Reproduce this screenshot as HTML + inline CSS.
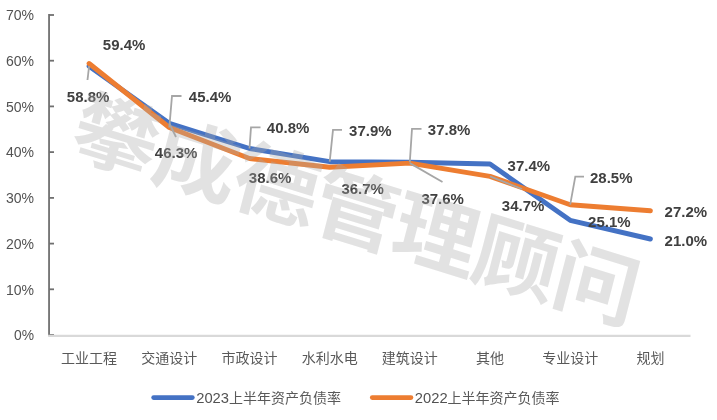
<!DOCTYPE html>
<html lang="zh-CN">
<head>
<meta charset="utf-8">
<title>资产负债率</title>
<style>
html,body{margin:0;padding:0;background:#fff;}
body{width:717px;height:420px;overflow:hidden;}
svg{display:block;font-family:"Liberation Sans","Noto Sans CJK SC",sans-serif;}
.ax{font-size:15.2px;fill:#525252;}
.cat{font-size:14px;fill:#595959;font-family:"Noto Sans CJK SC","Liberation Sans",sans-serif;text-anchor:middle;}
.leg{font-size:14px;fill:#595959;font-family:"Noto Sans CJK SC","Liberation Sans",sans-serif;}
.legn{font-size:15px;fill:#525252;}
.dl{font-size:15.2px;font-weight:bold;fill:#404040;}
.ld{fill:none;stroke:#a6a6a6;stroke-width:1.8;}
.wm{font-family:"Noto Sans CJK SC",sans-serif;font-weight:bold;font-size:76px;fill:#aaaaaa;fill-opacity:0.34;}
</style>
</head>
<body>
<svg width="717" height="420" viewBox="0 0 717 420">
<rect width="717" height="420" fill="#ffffff"/>
<line x1="49.05" y1="14.1" x2="49.05" y2="335.5" stroke="#707070" stroke-width="1.8"/>
<line x1="49.0" y1="335.0" x2="54.0" y2="335.0" stroke="#707070" stroke-width="1.8"/>
<text class="ax" x="14.1" y="340.2" textLength="20.0" lengthAdjust="spacingAndGlyphs">0%</text>
<line x1="49.0" y1="289.3" x2="54.0" y2="289.3" stroke="#707070" stroke-width="1.8"/>
<text class="ax" x="6.0" y="294.5" textLength="28.1" lengthAdjust="spacingAndGlyphs">10%</text>
<line x1="49.0" y1="243.6" x2="54.0" y2="243.6" stroke="#707070" stroke-width="1.8"/>
<text class="ax" x="6.0" y="248.8" textLength="28.1" lengthAdjust="spacingAndGlyphs">20%</text>
<line x1="49.0" y1="197.9" x2="54.0" y2="197.9" stroke="#707070" stroke-width="1.8"/>
<text class="ax" x="6.0" y="203.1" textLength="28.1" lengthAdjust="spacingAndGlyphs">30%</text>
<line x1="49.0" y1="152.1" x2="54.0" y2="152.1" stroke="#707070" stroke-width="1.8"/>
<text class="ax" x="6.0" y="157.3" textLength="28.1" lengthAdjust="spacingAndGlyphs">40%</text>
<line x1="49.0" y1="106.4" x2="54.0" y2="106.4" stroke="#707070" stroke-width="1.8"/>
<text class="ax" x="6.0" y="111.6" textLength="28.1" lengthAdjust="spacingAndGlyphs">50%</text>
<line x1="49.0" y1="60.7" x2="54.0" y2="60.7" stroke="#707070" stroke-width="1.8"/>
<text class="ax" x="6.0" y="65.9" textLength="28.1" lengthAdjust="spacingAndGlyphs">60%</text>
<line x1="49.0" y1="15.0" x2="54.0" y2="15.0" stroke="#707070" stroke-width="1.8"/>
<text class="ax" x="6.0" y="20.2" textLength="28.1" lengthAdjust="spacingAndGlyphs">70%</text>
<line x1="48.2" y1="335.85" x2="690.5" y2="335.85" stroke="#d9d9d9" stroke-width="2.1"/>
<text class="cat" x="89.1" y="363.2">工业工程</text>
<text class="cat" x="169.3" y="363.2">交通设计</text>
<text class="cat" x="249.5" y="363.2">市政设计</text>
<text class="cat" x="329.7" y="363.2">水利水电</text>
<text class="cat" x="409.8" y="363.2">建筑设计</text>
<text class="cat" x="490.0" y="363.2">其他</text>
<text class="cat" x="570.2" y="363.2">专业设计</text>
<text class="cat" x="650.4" y="363.2">规划</text>
<polyline points="89.1,66.2 169.3,123.3 249.5,148.5 329.7,161.7 409.8,162.2 490.0,164.0 570.2,220.3 650.4,239.0" fill="none" stroke="#4472c4" stroke-width="4.9" stroke-linejoin="round" stroke-linecap="round"/>
<polyline points="89.1,63.5 169.3,127.5 249.5,158.5 329.7,167.2 409.8,163.1 490.0,176.4 570.2,204.7 650.4,210.7" fill="none" stroke="#ed7d31" stroke-width="4.9" stroke-linejoin="round" stroke-linecap="round"/>
<polyline class="ld" points="89.1,66.2 87.5,80.0"/>
<polyline class="ld" points="169.3,123.3 176.0,137.0"/>
<polyline class="ld" points="249.5,148.5 251.0,127.3 260.5,127.3"/>
<polyline class="ld" points="329.7,161.7 333.0,129.8 342.0,129.8"/>
<polyline class="ld" points="409.8,162.2 412.0,128.8 421.5,128.8"/>
<polyline class="ld" points="169.3,127.5 172.0,96.0 181.5,96.0"/>
<polyline class="ld" points="409.8,163.1 442.5,182.0"/>
<polyline class="ld" points="490.0,176.4 522.0,189.0"/>
<polyline class="ld" points="570.2,204.7 575.3,176.6 584.0,176.6"/>
<text class="dl" x="66.8" y="102.4" textLength="42.5" lengthAdjust="spacingAndGlyphs">58.8%</text>
<text class="dl" x="154.8" y="158.1" textLength="42.5" lengthAdjust="spacingAndGlyphs">46.3%</text>
<text class="dl" x="266.8" y="133.4" textLength="42.5" lengthAdjust="spacingAndGlyphs">40.8%</text>
<text class="dl" x="349.1" y="136.0" textLength="42.5" lengthAdjust="spacingAndGlyphs">37.9%</text>
<text class="dl" x="427.8" y="135.4" textLength="42.5" lengthAdjust="spacingAndGlyphs">37.8%</text>
<text class="dl" x="507.6" y="171.0" textLength="42.5" lengthAdjust="spacingAndGlyphs">37.4%</text>
<text class="dl" x="588.1" y="227.4" textLength="42.5" lengthAdjust="spacingAndGlyphs">25.1%</text>
<text class="dl" x="664.6" y="246.4" textLength="42.5" lengthAdjust="spacingAndGlyphs">21.0%</text>
<text class="dl" x="102.8" y="50.4" textLength="42.5" lengthAdjust="spacingAndGlyphs">59.4%</text>
<text class="dl" x="188.8" y="102.4" textLength="42.5" lengthAdjust="spacingAndGlyphs">45.4%</text>
<text class="dl" x="248.8" y="183.4" textLength="42.5" lengthAdjust="spacingAndGlyphs">38.6%</text>
<text class="dl" x="341.4" y="194.0" textLength="42.5" lengthAdjust="spacingAndGlyphs">36.7%</text>
<text class="dl" x="421.4" y="204.0" textLength="42.5" lengthAdjust="spacingAndGlyphs">37.6%</text>
<text class="dl" x="501.8" y="211.4" textLength="42.5" lengthAdjust="spacingAndGlyphs">34.7%</text>
<text class="dl" x="590.0" y="183.4" textLength="42.5" lengthAdjust="spacingAndGlyphs">28.5%</text>
<text class="dl" x="664.6" y="217.4" textLength="42.5" lengthAdjust="spacingAndGlyphs">27.2%</text>
<line x1="153.6" y1="397.6" x2="192.4" y2="397.6" stroke="#4472c4" stroke-width="4.6" stroke-linecap="round"/>
<text class="legn" x="196.2" y="403.4" textLength="32.8" lengthAdjust="spacingAndGlyphs">2023</text>
<text class="leg" x="229" y="403.2">上半年资产负债率</text>
<line x1="372.2" y1="397.6" x2="411" y2="397.6" stroke="#ed7d31" stroke-width="4.6" stroke-linecap="round"/>
<text class="legn" x="414.8" y="403.4" textLength="32.8" lengthAdjust="spacingAndGlyphs">2022</text>
<text class="leg" x="447.6" y="403.2">上半年资产负债率</text>
<g transform="matrix(1.0176,0.3140,-0.2504,0.9681,356.2,211.8)"><text class="wm" style="font-size:80.5px" x="-235.8 -157.2 -78.6 0.0 78.6 157.2 235.8" y="27.7" text-anchor="middle">攀成德管理顾问</text></g>
</svg>
</body>
</html>
